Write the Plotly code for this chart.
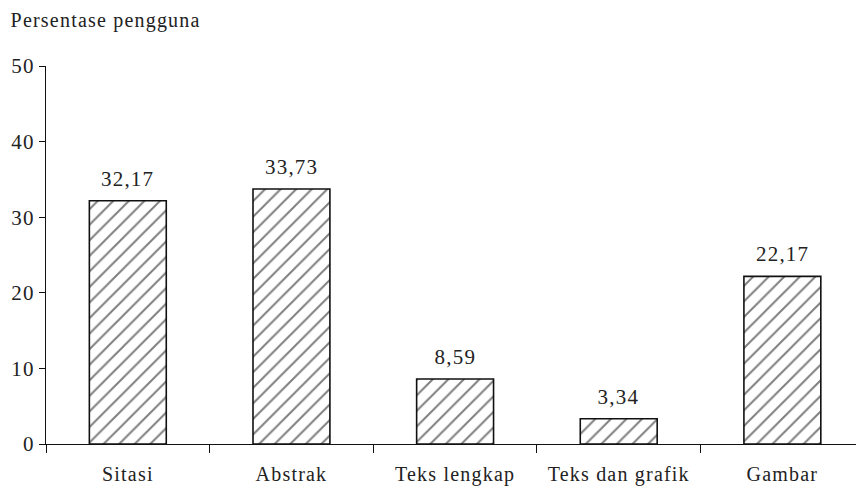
import plotly.graph_objects as go

categories = ["Sitasi", "Abstrak", "Teks lengkap", "Teks dan grafik", "Gambar"]
values = [32.17, 33.73, 8.59, 3.34, 22.17]
y_ticks = [0, 10, 20, 30, 40, 50]

FONT = "Liberation Serif, Times New Roman, serif"
TXT = "#222222"

fig = go.Figure()
fig.add_trace(go.Bar(
    x=categories,
    y=values,
    marker=dict(
        color="white",
        line=dict(color="#111111", width=1.6),
        pattern=dict(shape="/", fgcolor="#000000", bgcolor="white", size=11, solidity=0.18),
    ),
    width=0.47,
    hoverinfo="skip",
))

for c, v in zip(categories, values):
    fig.add_annotation(
        x=c, y=v, text=f"{v:.2f}".replace(".", ","),
        showarrow=False, yanchor="bottom", yshift=8,
        font=dict(family=FONT, size=21, color=TXT),
    )

fig.add_annotation(
    text="Persentase pengguna", xref="paper", yref="paper",
    x=-25 / 810, y=(444 - 33) / 378, xanchor="left", yanchor="bottom",
    showarrow=False, borderpad=0,
    font=dict(family=FONT, size=20, color=TXT),
)

fig.update_layout(
    width=856, height=488,
    margin=dict(l=46, r=0, t=66, b=44),
    paper_bgcolor="white", plot_bgcolor="white",
    showlegend=False,
    font=dict(family=FONT, size=21, color=TXT),
)
fig.update_xaxes(
    type="category", range=[-0.5, 4.45],
    showline=True, linecolor="#111111", linewidth=1.2,
    ticks="outside", tickson="boundaries", ticklen=8, tickcolor="#111111", tickwidth=1.2,
    ticklabelstandoff=12,
    showgrid=False, zeroline=False,
    tickfont=dict(family=FONT, size=20, color=TXT),
)
fig.update_yaxes(
    range=[0, 50], tickvals=y_ticks, ticktext=[str(t) for t in y_ticks],
    showline=True, linecolor="#111111", linewidth=1.2,
    ticks="outside", ticklen=6, tickcolor="#111111", tickwidth=1.2,
    showgrid=False, zeroline=False,
    tickfont=dict(family=FONT, size=21, color=TXT),
)

post = """
document.body.style.margin='0';
var st=document.createElement('style');
st.textContent='svg text{letter-spacing:1.2px;}';
document.head.appendChild(st);
"""
fig.write_html("out.html", post_script=post, config={"displayModeBar": False})
